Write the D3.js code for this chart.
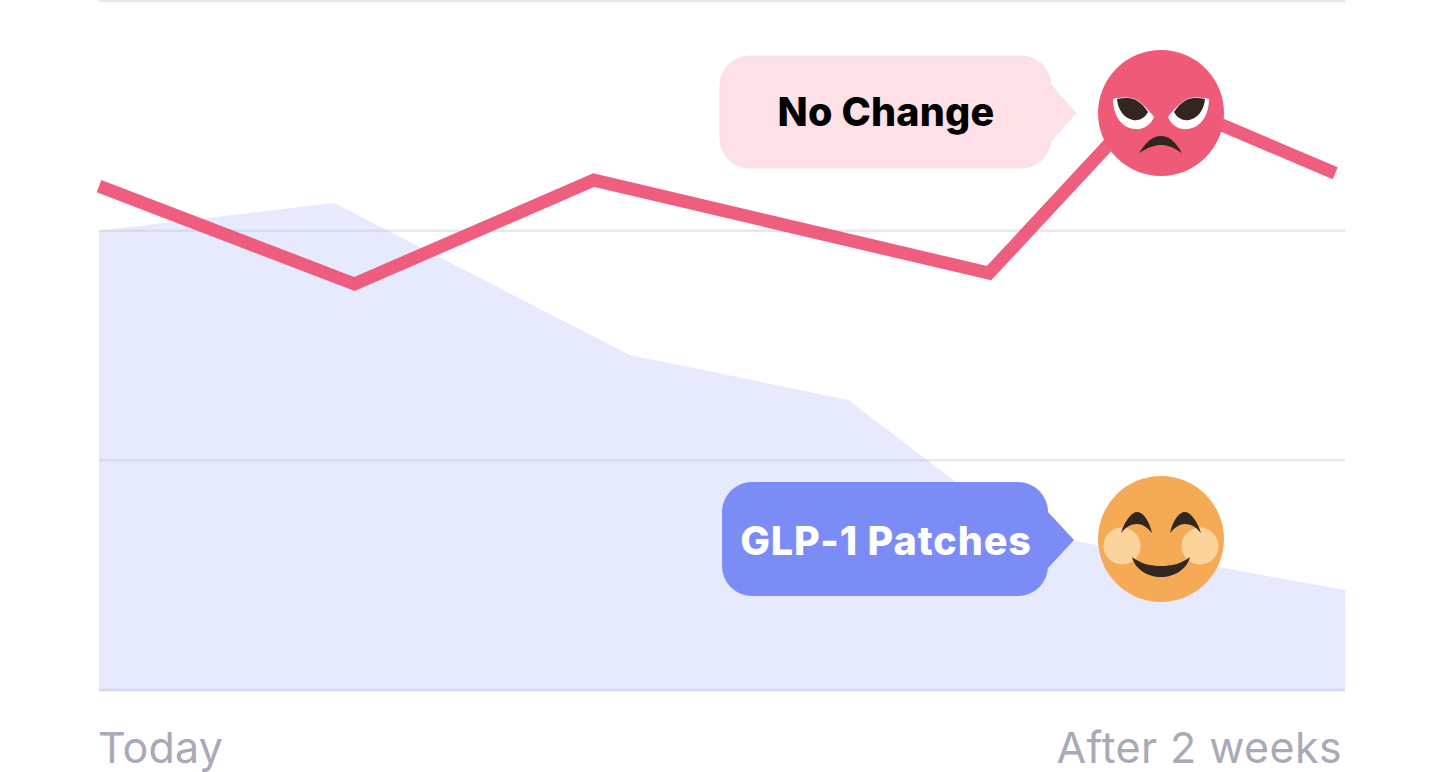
<!DOCTYPE html>
<html><head><meta charset="utf-8">
<script src="https://cdnjs.cloudflare.com/ajax/libs/d3/7.8.5/d3.min.js"></script>
<style>html,body{margin:0;background:#fff;overflow:hidden}svg{display:block}text{font-family:Inter,sans-serif}</style>
</head><body><svg id="c" width="1440" height="772"></svg>
<script>
const lineDays=[0,2.87,5.56,10,11.85,13.89];
const lineValues=[2.194,1.768,2.22,1.815,2.586,2.25];
const areaDays=[0,2.64,5.97,8.42,10.35,14];
const areaValues=[2.0,2.12,1.458,1.263,0.692,0.435];
const gridValues=[3,2,1];
const tickDays=[0,14];
const tickLabels=["Today","After 2 weeks"];
const lineName="No Change", areaName="GLP-1 Patches";

const svg=d3.select("#c");
const x=d3.scaleLinear().domain([0,14]).range([99,1345]);
const y=d3.scaleLinear().domain([0,3]).range([690,1]);
const zip=(a,b)=>a.map((d,i)=>[d,b[i]]);

svg.append("path").datum(zip(areaDays,areaValues))
  .attr("d",d3.area().x(d=>x(d[0])).y0(y(0)).y1(d=>y(d[1])))
  .attr("fill","#e7eafd");
svg.selectAll(".grid").data(gridValues).join("line").attr("class","grid")
  .attr("x1",x(0)).attr("x2",x(14)).attr("y1",d=>y(d)).attr("y2",d=>y(d))
  .attr("stroke","#c4c4d4").attr("stroke-opacity",.4).attr("stroke-width",2.5);
svg.append("line").attr("x1",x(0)).attr("x2",x(14)).attr("y1",y(0)).attr("y2",y(0))
  .attr("stroke","#d6d9f0").attr("stroke-width",3);
svg.append("path").datum(zip(lineDays,lineValues))
  .attr("d",d3.line().x(d=>x(d[0])).y(d=>y(d[1])))
  .attr("fill","none").attr("stroke","#ee5476").attr("stroke-opacity",.94).attr("stroke-width",13).attr("stroke-linejoin","miter");

svg.selectAll(".tick").data(tickDays).join("text").attr("class","tick")
  .attr("x",(d,i)=>i?x(d)-3:x(d)-1).attr("y",763)
  .attr("text-anchor",(d,i)=>i?"end":"start")
  .attr("font-size",43).attr("letter-spacing",(d,i)=>i?0.4:0.2).attr("fill","#a9a9b9").attr("font-weight",400)
  .text((d,i)=>tickLabels[i]);

function bubble(x0,x1,y0,y1,r,tw,th,cy){
  return `M${x0+r},${y0}H${x1-r}A${r},${r} 0 0 1 ${x1},${y0+r}V${cy-th}L${x1+tw},${cy}L${x1},${cy+th}V${y1-r}A${r},${r} 0 0 1 ${x1-r},${y1}H${x0+r}A${r},${r} 0 0 1 ${x0},${y1-r}V${y0+r}A${r},${r} 0 0 1 ${x0+r},${y0}Z`;
}
svg.append("path").attr("d",bubble(720,1051,56,168,30,25,28,113)).attr("fill","#fde1e6").attr("stroke","#efe3e5").attr("stroke-width",1);
svg.append("path").attr("d",bubble(722,1048,482,596,30,26,28,540)).attr("fill","#7b8cf6");
svg.append("text").attr("x",886).attr("y",126).attr("text-anchor","middle").attr("font-size",39.5).attr("letter-spacing",0.2).attr("font-weight",800).attr("fill","#000").text(lineName);
svg.append("text").attr("x",886).attr("y",555).attr("text-anchor","middle").attr("font-size",39.5).attr("letter-spacing",0.9).attr("font-weight",800).attr("fill","#fff").text(areaName);

const a=svg.append("g").attr("transform","translate(1161,113)");
a.append("circle").attr("r",63).attr("fill","#ee5a78");
[1,-1].forEach(s=>{
  const e=a.append("g").attr("transform",`scale(${s},1)`);
  e.append("path").attr("d","M-48,-14C-40,-16 -30,-16 -26,-14C-20,-11 -12,-3 -7,4C-10,12 -18,17 -26,16C-40,15 -48,2 -48,-14Z").attr("fill","#fff");
  e.append("path").attr("d","M-44,-14C-38,-15.5 -30,-15.5 -25,-13C-20,-10 -16,-6 -13,-1C-16,5 -22,8 -28,7C-37,5 -43,-3 -44,-14Z").attr("fill","#33261f");
});
a.append("path").attr("d","M-22,40C-14,28 -8,23 0,23C8,23 14,28 21,40C12,34 6,32 0,32C-6,32 -12,34 -22,40Z").attr("fill","#33261f");

const h=svg.append("g").attr("transform","translate(1161,539)");
h.append("circle").attr("r",63).attr("fill","#f5ab55");
[1,-1].forEach(s=>{
  const e=h.append("g").attr("transform",`scale(${s},1)`);
  e.append("circle").attr("cx",-39).attr("cy",7).attr("r",18.5).attr("fill","#fdd39c");
  e.append("path").attr("d","M-40,-6C-36,-19 -29,-27 -24,-27C-18,-27 -12,-19 -9,-6C-14,-12 -19,-15 -24,-15C-30,-15 -35,-12 -40,-6Z").attr("fill","#33261f");
});
h.append("path").attr("d","M-29,18C-20,25 -10,27 0,27C10,27 20,25 29,18C26,30 14,38 0,38C-14,38 -26,30 -29,18Z").attr("fill","#33261f");
</script></body></html>
